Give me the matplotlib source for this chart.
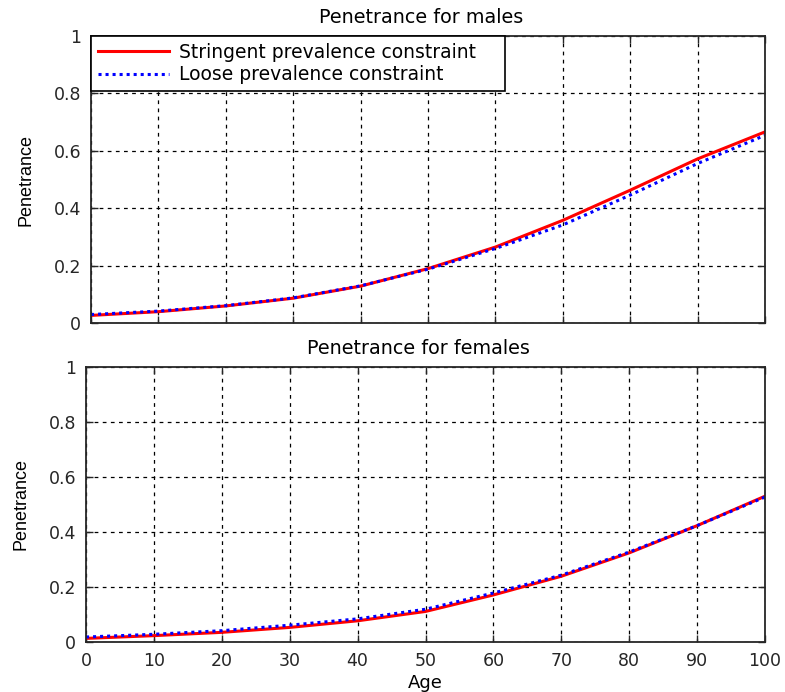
import numpy as np
import matplotlib.pyplot as plt

plt.rcParams['font.family'] = ['DejaVu Sans']

# Penetrance
age = [0, 10, 20, 30, 40, 50, 60, 70, 80, 90, 100]
male_stringent = [0.027, 0.040, 0.060, 0.087, 0.129, 0.190, 0.265, 0.358, 0.463, 0.572, 0.666]
male_loose = [0.030, 0.042, 0.061, 0.088, 0.130, 0.188, 0.260, 0.342, 0.446, 0.556, 0.654]
female_stringent = [0.013, 0.023, 0.035, 0.053, 0.077, 0.111, 0.171, 0.239, 0.324, 0.423, 0.530]
female_loose = [0.018, 0.028, 0.041, 0.061, 0.084, 0.119, 0.178, 0.243, 0.327, 0.423, 0.527]

x_ticks = list(range(0, 101, 10))
y_ticks = [0, 0.2, 0.4, 0.6, 0.8, 1]
y_labels = ['0', '0.2', '0.4', '0.6', '0.8', '1']

fig = plt.figure(figsize=(7.85, 6.92), dpi=100)
ax1 = fig.add_axes([0.116, 0.533, 0.8585, 0.415])
ax2 = fig.add_axes([0.1096, 0.0723, 0.8649, 0.3974])


def style_axis(ax, title, show_x):
    ax.set_xlim(0, 100)
    ax.set_ylim(0, 1)
    ax.set_xticks(x_ticks)
    ax.set_yticks(y_ticks)
    ax.set_yticklabels(y_labels)
    if not show_x:
        ax.set_xticklabels([])
    ax.tick_params(direction='in', length=5, width=1, pad=7, labelsize=12.5,
                   top=True, right=True, colors='#262626')
    ax.grid(True, color='black', linestyle=(0, (3, 3.5)), linewidth=0.9)
    for s in ax.spines.values():
        s.set_color('#262626')
        s.set_linewidth(1.3)
    ax.set_title(title, fontsize=13.8, pad=9, x=0.49)
    ax.set_ylabel('Penetrance', fontsize=13, labelpad=14, family='Liberation Sans')


ax1.plot(age, male_stringent, color='red', lw=2.2, label='Stringent prevalence constraint')
ax1.plot(age, male_loose, color='blue', lw=2.2, linestyle=(0, (1, 1.3)),
         label='Loose prevalence constraint')
style_axis(ax1, 'Penetrance for males', False)
leg = ax1.legend(loc='upper left', bbox_to_anchor=(0, 0.8, 0.614, 0.2), mode='expand',
                 fontsize=13.5, handlelength=3.8, fancybox=False, framealpha=1,
                 edgecolor='black', borderaxespad=0, borderpad=0.35, labelspacing=0.2,
                 handletextpad=0.55)
leg.get_frame().set_linewidth(1.2)

ax2.plot(age, female_stringent, color='red', lw=2.2)
ax2.plot(age, female_loose, color='blue', lw=2.2, linestyle=(0, (1, 1.3)))
style_axis(ax2, 'Penetrance for females', True)
ax2.set_xlabel('Age', fontsize=13, labelpad=3)

fig.savefig('out.png', dpi=100)
